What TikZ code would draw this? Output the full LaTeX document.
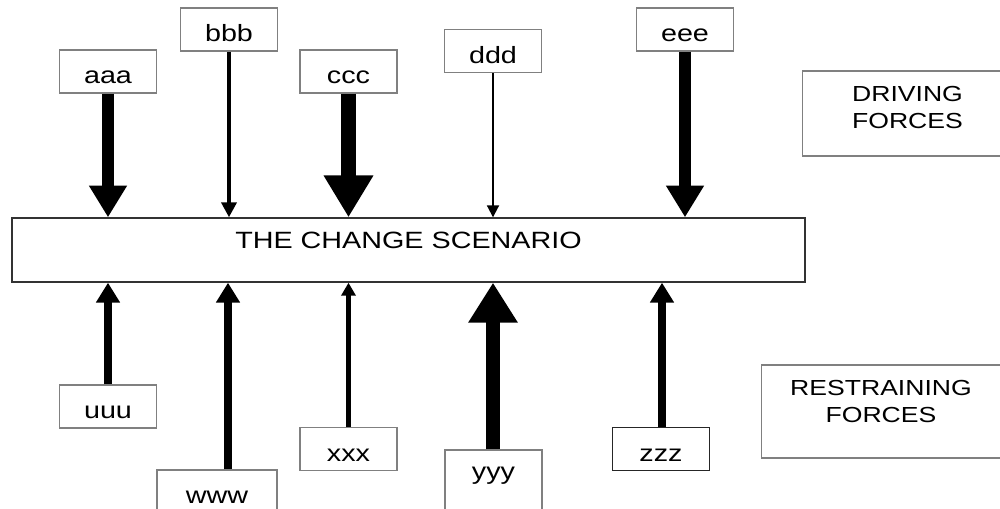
\documentclass[tikz,border=0pt]{standalone}
\usepackage{fontspec}
\setmainfont{Liberation Sans}[FakeStretch=1.22]
\usetikzlibrary{positioning,arrows.meta}

\tikzset{
	tag/.style={draw=black!50,line width=0.6pt,fill=white,inner sep=0pt,
		minimum width=1.94cm,minimum height=0.86cm,
		text height=0.48cm,text depth=0pt,font=\fontsize{13.4}{15}\selectfont},
	scenebox/.style={draw=black!80,line width=0.8pt,inner sep=0pt,
		minimum width=15.86cm,minimum height=1.28cm,
		text height=0.34cm,text depth=0.41cm,font=\fontsize{13.4}{15}\selectfont},
	side/.style={draw=black!50,line width=0.6pt,inner sep=0pt,align=center,
		text depth=0.39cm,font=\fontsize{12.4}{15.3}\selectfont},
	push/.style n args={3}{line width=#1,-{Triangle[width=#2,length=#3]}}
}

\begin{document}
\begin{tikzpicture}[x=0.02cm,y=-0.02cm]

\clip (0,0) rectangle (1000,508);

\node [scenebox] at (408.5,250) (scene) {THE CHANGE SCENARIO};

\foreach \n/\x/\y in {aaa/108/71.5, bbb/229/29.5, ccc/348.5/71.5, ddd/493/51, eee/685/29.5} {
	\node [tag] at (\x,\y) (\n) {\n};
}

\foreach \n/\x/\y in {uuu/108/406.5, xxx/348.5/449} {
	\node [tag] at (\x,\y) (\n) {\n};
}
\node [tag,minimum width=2.4cm] at (217,491.5) (www) {www};
\node [tag,minimum height=1.4cm,text depth=0.7cm] at (493.5,485) (yyy) {yyy};
\node [tag,draw=black!85] at (661,449) (zzz) {zzz};

\node [side,minimum width=4.22cm,minimum height=1.7cm,text depth=0.23cm] at (907.5,113.5) (driving) {DRIVING\\FORCES};
\node [side,minimum width=4.8cm,minimum height=1.86cm] at (881,411.5) (restraining) {RESTRAINING\\FORCES};

%%%%%%%%%%%%%%%%%%%%%%%%%%%%%%%%%%%%%%%%%%%%%%%%%%%%%%%%%%%%%%%%

\foreach \n/\lw/\hw/\hl in {aaa/6.8pt/20.4pt/18pt, bbb/2.3pt/8.5pt/8.5pt, ccc/9pt/26.6pt/23.8pt, ddd/1.1pt/6.8pt/6.8pt, eee/6.8pt/20.4pt/18pt} {
	\draw [push={\lw}{\hw}{\hl}] (\n.south) -- (\n.south |- scene.north);
}

\foreach \n/\dx/\lw/\hw/\hl in {uuu/0cm/5.1pt/13pt/11.3pt, www/0.22cm/4.5pt/13pt/11.3pt, xxx/0cm/2.3pt/8pt/7.4pt, yyy/-0.01cm/8.5pt/26.6pt/22.7pt, zzz/0.02cm/5.1pt/13pt/11.3pt} {
	\coordinate (\n-foot) at ([xshift=\dx]\n.north);
	\draw [push={\lw}{\hw}{\hl}] (\n-foot) -- (\n-foot |- scene.south);
}

\end{tikzpicture}
\end{document}
